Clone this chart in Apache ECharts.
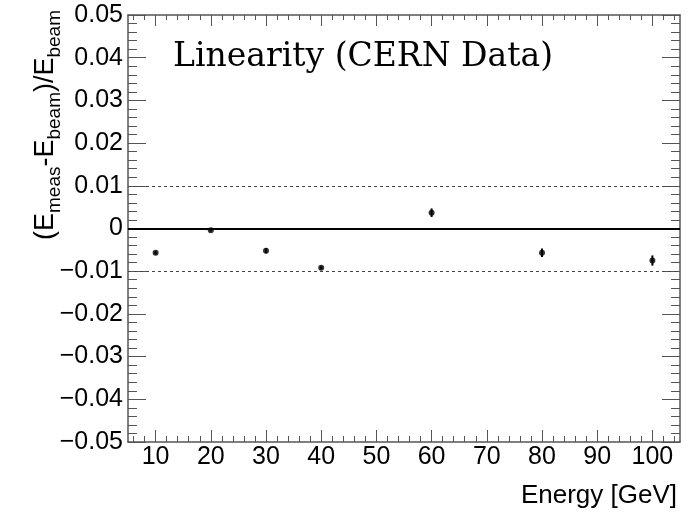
<!DOCTYPE html>
<html>
<head>
<meta charset="utf-8">
<script src="https://cdn.jsdelivr.net/npm/echarts@6/dist/echarts.min.js"></script>
<style>html,body{margin:0;padding:0;background:#fff;}#c{width:694px;height:522px;}</style>
</head>
<body>
<div id="c"></div>
<script>
// ---- data ----
var energies = [10, 20, 30, 40, 60, 80, 100];
var linearity = [-0.0057, -0.0004, -0.0052, -0.0092, 0.0037, -0.0057, -0.0075];
var errors = [0.0004, 0.0003, 0.0006, 0.0004, 0.0010, 0.0010, 0.0012];
var xMajorTicks = [10, 20, 30, 40, 50, 60, 70, 80, 90, 100];
var xMinorTicks = [6, 8, 12, 14, 16, 18, 22, 24, 26, 28, 32, 34, 36, 38, 42, 44, 46, 48, 52, 54, 56, 58, 62, 64, 66, 68, 72, 74, 76, 78, 82, 84, 86, 88, 92, 94, 96, 98, 102, 104];
var yMajorTicks = [-0.05, -0.04, -0.03, -0.02, -0.01, 0, 0.01, 0.02, 0.03, 0.04, 0.05];
var yMinorTicks = [];
for (var i = -25; i <= 25; i++) { if (i % 5 !== 0) yMinorTicks.push(i / 500); }
var refLines = [-0.01, 0, 0.01];
var titleText = 'Linearity (CERN Data)';
var xTitle = 'Energy [GeV]';

var pts = energies.map(function (e, i) { return [e, linearity[i], errors[i]]; });

var axisCol = '#555';
var font = 'Liberation Sans, Arial, Helvetica, sans-serif';

function xAx(pos, vals, len, showLine, showLabel) {
  return {
    type: 'value', position: pos, min: 5, max: 105,
    axisLine: { show: showLine, onZero: false, lineStyle: { color: axisCol, width: 1.5 } },
    axisTick: { show: true, inside: true, length: len, customValues: vals, lineStyle: { color: axisCol, width: 1 } },
    axisLabel: showLabel ? { show: true, customValues: vals, fontSize: 25, color: '#000', fontFamily: font, margin: 3 } : { show: false },
    splitLine: { show: false }
  };
}
function yAx(pos, vals, len, showLine, showLabel) {
  return {
    type: 'value', position: pos, min: -0.05, max: 0.05,
    axisLine: { show: showLine, onZero: false, lineStyle: { color: axisCol, width: 1.5 } },
    axisTick: { show: true, inside: true, length: len, customValues: vals, lineStyle: { color: axisCol, width: 1 } },
    axisLabel: showLabel ? {
      show: true, customValues: vals, fontSize: 25, color: '#000', fontFamily: font, margin: 5,
      formatter: function (v) {
        var r = Math.round(v * 100) / 100;
        if (Math.abs(r) < 1e-9) return '0';
        var s = Math.abs(r).toFixed(2);
        return r < 0 ? '\u2212' + s : s;
      }
    } : { show: false },
    splitLine: { show: false }
  };
}

var chart = echarts.init(document.getElementById('c'), null, { renderer: 'canvas' });
chart.setOption({
  animation: false,
  backgroundColor: '#fff',
  grid: { left: 128, top: 15, right: 14, bottom: 80, containLabel: false },
  xAxis: [
    xAx('bottom', xMajorTicks, 12, true, true),
    xAx('bottom', xMinorTicks, 6, false, false),
    xAx('top', xMajorTicks, 11, true, false),
    xAx('top', xMinorTicks, 5, false, false)
  ],
  yAxis: [
    yAx('left', yMajorTicks, 18, true, true),
    yAx('left', yMinorTicks, 9, false, false),
    yAx('right', yMajorTicks, 18, true, false),
    yAx('right', yMinorTicks, 9, false, false)
  ],
  series: [
    {
      type: 'custom', xAxisIndex: 0, yAxisIndex: 0, z: 3,
      data: pts, encode: { x: 0, y: 1 },
      renderItem: function (params, api) {
        var x = api.value(0), y = api.value(1), e = api.value(2);
        var p1 = api.coord([x, y - e]);
        var p2 = api.coord([x, y + e]);
        return { type: 'line', shape: { x1: p1[0], y1: p1[1], x2: p2[0], y2: p2[1] }, style: { stroke: '#000', lineWidth: 2 } };
      }
    },
    {
      type: 'scatter', xAxisIndex: 0, yAxisIndex: 0, z: 4,
      data: pts.map(function (p) { return [p[0], p[1]]; }),
      symbol: 'circle', symbolSize: 6,
      itemStyle: { color: '#000' },
      markLine: {
        silent: true, symbol: 'none', label: { show: false }, animation: false,
        data: refLines.map(function (v) {
          return v === 0
            ? { yAxis: v, lineStyle: { type: 'solid', color: '#000', width: 2 } }
            : { yAxis: v, lineStyle: { type: [3, 3], color: '#444', width: 1 } };
        })
      }
    }
  ],
  graphic: [
    {
      type: 'text', z: 10, x: 173, y: 57,
      style: { text: titleText, fontFamily: 'DejaVu Serif, serif', fontSize: 33, fill: '#000', align: 'left', verticalAlign: 'middle' }
    },
    {
      type: 'text', z: 10, x: 677, y: 496,
      style: { text: xTitle, fontFamily: font, fontSize: 26, fill: '#000', align: 'right', verticalAlign: 'middle' }
    },
    {
      type: 'text', z: 10, x: 46, y: 125, rotation: Math.PI / 2,
      style: {
        text: '{m|(E}{s|meas}{m|-E}{s|beam}{m|)/E}{s|beam}',
        align: 'center', verticalAlign: 'middle', fill: '#000',
        rich: {
          m: { fontFamily: font, fontSize: 27, lineHeight: 36, fill: '#000' },
          s: { fontFamily: font, fontSize: 19, lineHeight: 19, verticalAlign: 'bottom', fill: '#000' }
        }
      }
    }
  ]
});
</script>
</body>
</html>
